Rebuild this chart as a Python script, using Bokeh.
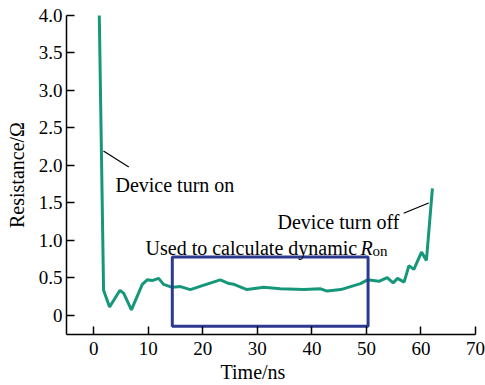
from bokeh.plotting import figure
from bokeh.models import Range1d, FixedTicker, Label, Title, LinearAxis
from bokeh.embed import file_html
from bokeh.resources import INLINE

# Data
time_ns = [1.0, 1.8, 2.9, 4.8, 5.5, 6.9, 8.9, 9.8, 10.7, 11.9, 12.8, 14.4, 15.9,
           17.7, 20.2, 23.2, 24.8, 25.7, 28.1, 31.2, 34.2, 38.5, 41.6, 42.8, 45.3,
           48.9, 50.2, 52.3, 53.8, 54.9, 55.7, 56.9, 57.8, 58.7, 60.1, 61.0, 62.1]
resistance = [4.05, 0.33, 0.107, 0.33, 0.29, 0.07, 0.41, 0.47, 0.46, 0.49, 0.41,
              0.37, 0.38, 0.34, 0.40, 0.47, 0.42, 0.41, 0.34, 0.37, 0.35, 0.34,
              0.35, 0.32, 0.34, 0.42, 0.47, 0.45, 0.50, 0.43, 0.49, 0.44, 0.66,
              0.61, 0.84, 0.73, 1.69]
x_ticks = [0, 10, 20, 30, 40, 50, 60, 70]
y_ticks = [0, 0.5, 1.0, 1.5, 2.0, 2.5, 3.0, 3.5, 4.0]
y_tick_labels = ["0", "0.5", "1.0", "1.5", "2.0", "2.5", "3.0", "3.5", "4.0"]
window_start, window_end = 14.4, 50.3
window_low, window_high = -0.15, 0.775

FONT = "Liberation Serif"
LINE_COLOR = "#17977a"
BOX_COLOR = "#2b3990"

p = figure(width=485, height=385, output_backend="svg", toolbar_location=None,
           x_range=Range1d(-5, 70), y_range=Range1d(-0.26, 4.0),
           x_axis_location=None, y_axis_location=None,
           min_border_left=66, min_border_right=10, min_border_top=15,
           min_border_bottom=51)
p.outline_line_color = None
p.grid.visible = False
p.background_fill_color = "white"
p.border_fill_color = "white"

xaxis = LinearAxis(ticker=FixedTicker(ticks=x_ticks))
yaxis = LinearAxis(ticker=FixedTicker(ticks=y_ticks),
                   major_label_overrides={t: s for t, s in zip(y_ticks, y_tick_labels)},
                   axis_label="Resistance/\u03a9")
for ax in (xaxis, yaxis):
    ax.axis_line_color = "black"
    ax.axis_line_width = 1.5
    ax.major_tick_line_color = "black"
    ax.major_tick_line_width = 1.5
    ax.major_tick_in = 8
    ax.major_tick_out = 0
    ax.minor_tick_line_color = None
    ax.major_label_text_font = FONT
    ax.major_label_text_font_size = "19px"
    ax.major_label_text_font_style = "normal"
    ax.major_label_text_color = "black"
    ax.axis_label_text_font = FONT
    ax.axis_label_text_font_size = "20px"
    ax.axis_label_text_font_style = "normal"
    ax.axis_label_text_color = "black"
xaxis.major_label_standoff = 7
yaxis.major_label_standoff = 4
yaxis.axis_label_standoff = 8
p.add_layout(xaxis, "below")
p.add_layout(yaxis, "left")

p.add_layout(Title(text="Time/ns", align="left", offset=154, text_font=FONT,
                   text_font_size="20px", text_font_style="normal",
                   text_color="black", standoff=2), "below")

p.line(time_ns, resistance, line_color=LINE_COLOR, line_width=3)

p.quad(left=[window_start], right=[window_end], bottom=[window_low], top=[window_high],
       fill_color=None, line_color=BOX_COLOR, line_width=3)

# Leader lines
p.line([1.78, 6.42], [2.19, 1.977], line_color="black", line_width=1.2)
p.line([56.83, 61.41], [1.359, 1.496], line_color="black", line_width=1.2)

def add_text(x, y, s, size="20px", style="normal", align="left"):
    p.add_layout(Label(x=x, y=y, text=s, text_font=FONT, text_font_size=size,
                       text_font_style=style, text_align=align,
                       text_baseline="alphabetic", text_color="black"))

add_text(3.98, 1.733, "Device turn on")
add_text(33.7, 1.243, "Device turn off")
add_text(48.3, 0.891, "Used to calculate dynamic", align="right")
add_text(48.93, 0.891, "R", style="italic")
add_text(51.1, 0.85, "on", size="15px")

open("out.html", "w").write(file_html(p, INLINE))
